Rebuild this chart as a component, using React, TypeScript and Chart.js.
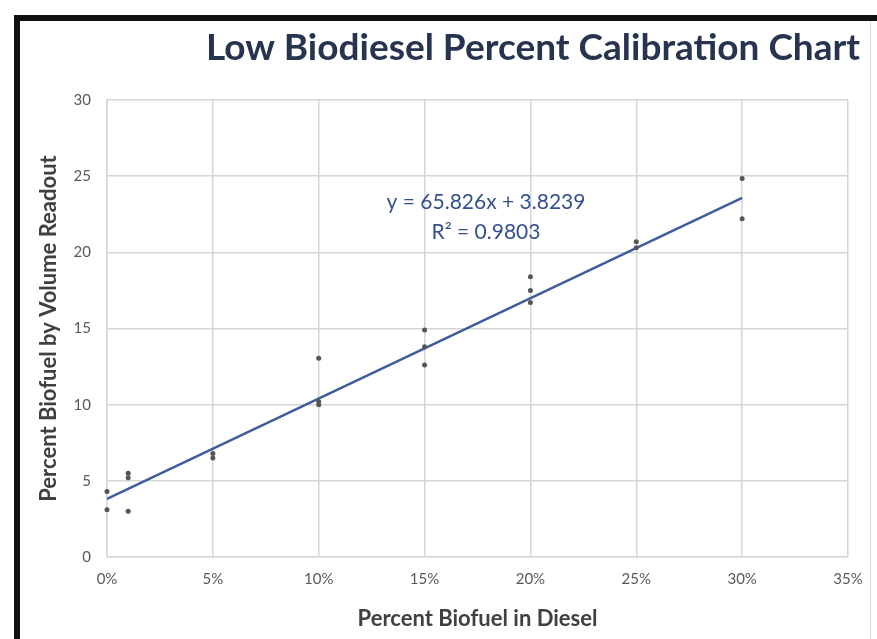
import React, { useEffect, useRef } from "react";
import { Chart, registerables } from "chart.js";

Chart.register(...registerables);

const TITLE = "Low Biodiesel Percent Calibration Chart";
const X_TITLE = "Percent Biofuel in Diesel";
const Y_TITLE = "Percent Biofuel by Volume Readout";
const EQUATION = "y = 65.826x + 3.8239";
const R2 = "R² = 0.9803";

const pointX = [0, 0, 0.01, 0.01, 0.01, 0.05, 0.05, 0.1, 0.1, 0.1, 0.15, 0.15, 0.15, 0.2, 0.2, 0.2, 0.25, 0.25, 0.3, 0.3];
const pointY = [4.3, 3.1, 5.5, 5.2, 3.0, 6.5, 6.8, 13.05, 10.2, 10.0, 14.9, 13.8, 12.6, 18.4, 17.5, 16.7, 20.7, 20.3, 24.85, 22.2];

const trendX = [0, 0.3];
const trendY = [3.82, 23.57];

const xTickValues = [0, 0.05, 0.1, 0.15, 0.2, 0.25, 0.3, 0.35];
const xTickLabels = ["0%", "5%", "10%", "15%", "20%", "25%", "30%", "35%"];
const yTickLabels = ["0", "5", "10", "15", "20", "25", "30"];

const FONT = "Lato, 'Open Sans', sans-serif";

export default function App() {
  const ref = useRef<HTMLCanvasElement | null>(null);

  useEffect(() => {
    document.body.style.margin = "0";
    const canvas = ref.current;
    if (!canvas) return;

    const decor = {
      id: "decor",
      beforeDraw(chart: any) {
        const ctx = chart.ctx;
        ctx.save();
        ctx.fillStyle = "#ffffff";
        ctx.fillRect(0, 0, chart.width, chart.height);
        ctx.restore();
      },
      afterDraw(chart: any) {
        const ctx = chart.ctx;
        ctx.save();
        // frame
        ctx.fillStyle = "#111111";
        ctx.fillRect(14, 15, chart.width - 14, 6);
        ctx.fillRect(14, 15, 6, chart.height - 15);
        ctx.strokeStyle = "#d9d9d9";
        ctx.lineWidth = 1;
        ctx.beginPath();
        ctx.moveTo(870.5, 21);
        ctx.lineTo(870.5, chart.height);
        ctx.stroke();
        // title
        ctx.fillStyle = "#26344f";
        ctx.font = `bold 37px ${FONT}`;
        ctx.textAlign = "center";
        ctx.textBaseline = "middle";
        ctx.fillText(TITLE, 533, 48);
        // equation
        ctx.fillStyle = "#34508e";
        ctx.font = `21px ${FONT}`;
        ctx.fillText(EQUATION, 486, 202);
        ctx.fillText(R2, 486, 232);
        ctx.restore();
      },
    };

    const chart = new Chart(canvas, {
      type: "scatter",
      data: {
        datasets: [
          {
            type: "line",
            label: "Trend",
            data: trendX.map((x, i) => ({ x, y: trendY[i] })),
            borderColor: "#3f5d9c",
            borderWidth: 2.5,
            pointRadius: 0,
            fill: false,
            order: 1,
          } as any,
          {
            label: "Readout",
            data: pointX.map((x, i) => ({ x, y: pointY[i] })),
            backgroundColor: "#555555",
            borderColor: "#555555",
            pointRadius: 2.5,
            pointBorderWidth: 0,
            clip: false,
            order: 0,
          } as any,
        ],
      },
      options: {
        responsive: false,
        animation: false,
        layout: { padding: { left: 30, right: 29, top: 100, bottom: 7 } },
        plugins: {
          legend: { display: false },
          tooltip: { enabled: false },
          title: { display: false },
        },
        scales: {
          x: {
            type: "linear",
            min: 0,
            max: 0.35,
            afterBuildTicks(scale: any) {
              scale.ticks = xTickValues.map((v) => ({ value: v }));
            },
            afterFit(scale: any) {
              scale.height = 75;
            },
            ticks: {
              callback: (v: any) => {
                const i = xTickValues.findIndex((t) => Math.abs(t - Number(v)) < 1e-9);
                return i >= 0 ? xTickLabels[i] : "";
              },
              color: "#595959",
              font: { family: FONT, size: 15 },
              padding: 13,
              maxRotation: 0,
            },
            grid: { color: "#d6d6d6", lineWidth: 1.5, drawTicks: false },
            border: { color: "#d6d6d6", width: 1.5 },
            title: {
              display: true,
              text: X_TITLE,
              color: "#404040",
              font: { family: FONT, size: 22, weight: "bold" },
              padding: { top: 10, bottom: 0 },
            },
          },
          y: {
            type: "linear",
            min: 0,
            max: 30,
            afterBuildTicks(scale: any) {
              scale.ticks = yTickLabels.map((t) => ({ value: Number(t) }));
            },
            afterFit(scale: any) {
              scale.width = 77;
            },
            ticks: {
              callback: (v: any) => {
                const i = yTickLabels.indexOf(String(v));
                return i >= 0 ? yTickLabels[i] : "";
              },
              color: "#595959",
              font: { family: FONT, size: 15 },
              padding: 16,
            },
            grid: { color: "#d6d6d6", lineWidth: 1.5, drawTicks: false },
            border: { color: "#d6d6d6", width: 1.5 },
            title: {
              display: true,
              text: Y_TITLE,
              color: "#404040",
              font: { family: FONT, size: 22, weight: "bold" },
              padding: { top: 6, bottom: 0 },
            },
          },
        },
      },
      plugins: [decor],
    });

    return () => chart.destroy();
  }, []);

  return (
    <div style={{ position: "absolute", left: 0, top: 0, width: 877, height: 639 }}>
      <canvas ref={ref} width={877} height={639} style={{ width: 877, height: 639 }} />
    </div>
  );
}
